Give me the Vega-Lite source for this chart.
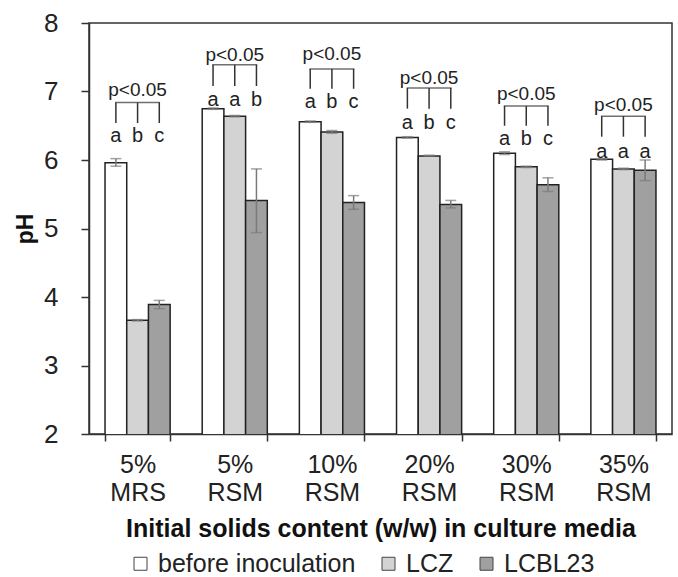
{
  "$schema": "https://vega.github.io/schema/vega-lite/v6.json",
  "width": 583,
  "height": 411,
  "autosize": "none",
  "padding": {"left": 89, "top": 23, "right": 6, "bottom": 143},
  "background": "white",
  "config": {
    "font": "Liberation Sans",
    "view": {"stroke": "#333", "strokeWidth": 1.5},
    "axisY": {
      "titleFontSize": 23,
      "titleFontWeight": "bold",
      "titleColor": "#111",
      "titlePadding": 6,
      "labelFontSize": 26,
      "labelColor": "#222",
      "labelPadding": 23,
      "grid": false,
      "tickSize": 8,
      "tickColor": "#333",
      "tickWidth": 1.5,
      "domainColor": "#333",
      "domainWidth": 1.5
    }
  },
  "data": {
    "values": [
      {"group": "5% MRS", "treatment": "before inoculation", "pH": 5.96, "lo": 5.91, "hi": 6.02, "letter": "a", "ly": 6.35, "bb": 6.54, "bt": 6.84, "py": 7.02},
      {"group": "5% MRS", "treatment": "LCZ", "pH": 3.66, "lo": 3.65, "hi": 3.67, "letter": "b", "ly": 6.35, "bb": 6.54, "bt": 6.84, "py": 7.02},
      {"group": "5% MRS", "treatment": "LCBL23", "pH": 3.89, "lo": 3.83, "hi": 3.95, "letter": "c", "ly": 6.35, "bb": 6.54, "bt": 6.84, "py": 7.02},
      {"group": "5% RSM", "treatment": "before inoculation", "pH": 6.75, "lo": 6.74, "hi": 6.76, "letter": "a", "ly": 6.88, "bb": 7.08, "bt": 7.39, "py": 7.54},
      {"group": "5% RSM", "treatment": "LCZ", "pH": 6.64, "lo": 6.63, "hi": 6.65, "letter": "a", "ly": 6.88, "bb": 7.08, "bt": 7.39, "py": 7.54},
      {"group": "5% RSM", "treatment": "LCBL23", "pH": 5.41, "lo": 4.94, "hi": 5.87, "letter": "b", "ly": 6.88, "bb": 7.08, "bt": 7.39, "py": 7.54},
      {"group": "10% RSM", "treatment": "before inoculation", "pH": 6.56, "lo": 6.55, "hi": 6.57, "letter": "a", "ly": 6.85, "bb": 7.04, "bt": 7.33, "py": 7.55},
      {"group": "10% RSM", "treatment": "LCZ", "pH": 6.41, "lo": 6.39, "hi": 6.43, "letter": "b", "ly": 6.85, "bb": 7.04, "bt": 7.33, "py": 7.55},
      {"group": "10% RSM", "treatment": "LCBL23", "pH": 5.38, "lo": 5.28, "hi": 5.48, "letter": "c", "ly": 6.85, "bb": 7.04, "bt": 7.33, "py": 7.55},
      {"group": "20% RSM", "treatment": "before inoculation", "pH": 6.33, "lo": 6.32, "hi": 6.34, "letter": "a", "ly": 6.54, "bb": 6.75, "bt": 7.05, "py": 7.2},
      {"group": "20% RSM", "treatment": "LCZ", "pH": 6.06, "lo": 6.06, "hi": 6.07, "letter": "b", "ly": 6.54, "bb": 6.75, "bt": 7.05, "py": 7.2},
      {"group": "20% RSM", "treatment": "LCBL23", "pH": 5.35, "lo": 5.3, "hi": 5.41, "letter": "c", "ly": 6.54, "bb": 6.75, "bt": 7.05, "py": 7.2},
      {"group": "30% RSM", "treatment": "before inoculation", "pH": 6.1, "lo": 6.08, "hi": 6.12, "letter": "a", "ly": 6.3, "bb": 6.5, "bt": 6.79, "py": 6.96},
      {"group": "30% RSM", "treatment": "LCZ", "pH": 5.9, "lo": 5.89, "hi": 5.91, "letter": "b", "ly": 6.3, "bb": 6.5, "bt": 6.79, "py": 6.96},
      {"group": "30% RSM", "treatment": "LCBL23", "pH": 5.64, "lo": 5.54, "hi": 5.74, "letter": "c", "ly": 6.3, "bb": 6.5, "bt": 6.79, "py": 6.96},
      {"group": "35% RSM", "treatment": "before inoculation", "pH": 6.01, "lo": 6.0, "hi": 6.02, "letter": "a", "ly": 6.12, "bb": 6.34, "bt": 6.64, "py": 6.8},
      {"group": "35% RSM", "treatment": "LCZ", "pH": 5.87, "lo": 5.86, "hi": 5.88, "letter": "a", "ly": 6.12, "bb": 6.34, "bt": 6.64, "py": 6.8},
      {"group": "35% RSM", "treatment": "LCBL23", "pH": 5.85, "lo": 5.7, "hi": 6.0, "letter": "a", "ly": 6.12, "bb": 6.34, "bt": 6.64, "py": 6.8}
    ]
  },
  "encoding": {
    "x": {
      "field": "group",
      "type": "nominal",
      "sort": ["5% MRS", "5% RSM", "10% RSM", "20% RSM", "30% RSM", "35% RSM"],
      "scale": {"paddingInner": 0.33, "paddingOuter": 0.165},
      "axis": {
        "title": "Initial solids content (w/w) in culture media",
        "titleFontSize": 25,
        "titleFontWeight": "bold",
        "titleColor": "#111",
        "titlePadding": 11,
        "labelAngle": 0,
        "labelFontSize": 25,
        "labelColor": "#222",
        "labelLineHeight": 28,
        "labelPadding": 11,
        "labelExpr": "split(datum.label, ' ')",
        "tickBand": "extent",
        "tickSize": 7,
        "tickColor": "#333",
        "tickWidth": 1.5,
        "domainColor": "#333",
        "domainWidth": 1.5
      }
    },
    "xOffset": {
      "field": "treatment",
      "type": "nominal",
      "sort": ["before inoculation", "LCZ", "LCBL23"],
      "scale": {"paddingInner": 0, "paddingOuter": 0}
    }
  },
  "layer": [
    {
      "mark": {"type": "bar", "stroke": "#222", "strokeWidth": 1.5, "clip": true},
      "encoding": {
        "y": {
          "field": "pH",
          "type": "quantitative",
          "title": "pH",
          "scale": {"domain": [2, 8], "nice": false, "zero": false},
          "axis": {"values": [2, 3, 4, 5, 6, 7, 8], "format": "d"}
        },
        "fill": {
          "field": "treatment",
          "type": "nominal",
          "sort": ["before inoculation", "LCZ", "LCBL23"],
          "scale": {"domain": ["before inoculation", "LCZ", "LCBL23"], "range": ["#ffffff", "#d3d3d3", "#a0a0a0"]},
          "legend": {
            "orient": "none",
            "legendX": 39,
            "legendY": 528,
            "direction": "horizontal",
            "title": null,
            "symbolType": "square",
            "symbolSize": 169,
            "symbolStrokeColor": "#444",
            "symbolStrokeWidth": 1,
            "labelFontSize": 25,
            "labelColor": "#222",
            "labelLimit": 400,
            "columnPadding": 20,
            "labelOffset": 5
          }
        }
      }
    },
    {
      "mark": {"type": "rule", "color": "#7a7a7a", "strokeWidth": 1.5},
      "encoding": {
        "y": {"field": "lo", "type": "quantitative", "title": "pH"},
        "y2": {"field": "hi"}
      }
    },
    {
      "mark": {"type": "tick", "color": "#7a7a7a", "size": 11, "thickness": 1.5},
      "encoding": {"y": {"field": "lo", "type": "quantitative", "title": "pH"}}
    },
    {
      "mark": {"type": "tick", "color": "#7a7a7a", "size": 11, "thickness": 1.5},
      "encoding": {"y": {"field": "hi", "type": "quantitative", "title": "pH"}}
    },
    {
      "mark": {"type": "text", "fontSize": 20, "color": "#222", "baseline": "middle"},
      "encoding": {
        "y": {"field": "ly", "type": "quantitative", "title": "pH"},
        "text": {"field": "letter"}
      }
    },
    {
      "mark": {"type": "rule", "color": "#333", "strokeWidth": 1.5},
      "encoding": {
        "y": {"field": "bb", "type": "quantitative", "title": "pH"},
        "y2": {"field": "bt"}
      }
    },
    {
      "transform": [{"filter": "datum.treatment === 'LCZ'"}],
      "mark": {"type": "tick", "color": "#333", "size": 45, "thickness": 1.5},
      "encoding": {"y": {"field": "bt", "type": "quantitative", "title": "pH"}}
    },
    {
      "transform": [{"filter": "datum.treatment === 'LCZ'"}],
      "mark": {"type": "text", "fontSize": 19, "color": "#222", "baseline": "middle"},
      "encoding": {
        "y": {"field": "py", "type": "quantitative", "title": "pH"},
        "text": {"value": "p<0.05"}
      }
    }
  ]
}
